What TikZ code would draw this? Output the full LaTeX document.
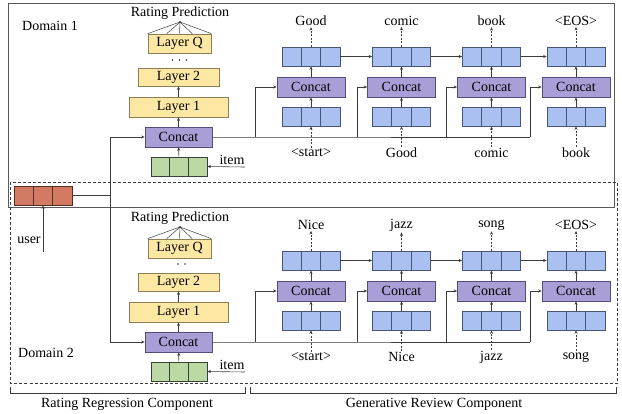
\documentclass[tikz,border=0pt]{standalone}
\usepackage{fontspec}
\setmainfont{Liberation Serif}
\usetikzlibrary{calc,arrows.meta}
\definecolor{yfill}{RGB}{252,231,163}
\definecolor{ydraw}{RGB}{140,125,85}
\definecolor{pfill}{RGB}{170,158,214}
\definecolor{pdraw}{RGB}{85,75,125}
\definecolor{bfill}{RGB}{170,192,240}
\definecolor{bdraw}{RGB}{70,85,120}
\definecolor{gfill}{RGB}{188,216,164}
\definecolor{gdraw}{RGB}{55,65,55}
\definecolor{rfill}{RGB}{210,122,100}
\definecolor{rdraw}{RGB}{85,45,35}
\definecolor{lineC}{RGB}{60,60,60}
\begin{document}
\begin{tikzpicture}[x=1pt,y=-1pt,
  font=\fontsize{14}{16}\selectfont,
  box/.style={draw, line width=0.7pt, inner sep=0pt, anchor=center},
  layer/.style={box, fill=yfill, draw=ydraw, minimum height=19pt},
  cc/.style={box, fill=pfill, draw=pdraw, minimum width=68pt, minimum height=20pt},
  rcc/.style={box, fill=pfill, draw=pdraw, minimum width=67pt, minimum height=20pt},
  cells/.style={box, draw=#1, minimum width=58pt, minimum height=19pt,
    path picture={\foreach \k in {1,2}{\draw[#1, line width=0.7pt]
      ($(path picture bounding box.south west)!\k/3!(path picture bounding box.south east)$) --
      ($(path picture bounding box.north west)!\k/3!(path picture bounding box.north east)$);}}},
  bcell/.style={cells=bdraw, fill=bfill},
  gcell/.style={cells=gdraw, fill=gfill, minimum width=56pt},
  rcell/.style={cells=rdraw, fill=rfill},
  arr/.style={-{Stealth[length=3.5pt,width=3pt]}, line width=0.6pt, draw=lineC},
  darr/.style={arr, dash pattern=on 2pt off 1.5pt},
  ln/.style={line width=0.6pt, draw=lineC},
  lbl/.style={inner sep=1pt},
  frame/.style={line width=0.8pt, draw=lineC}
]
\useasboundingbox (0,0) rectangle (622,413);

% domain frames
\draw[frame, draw=black!65] (8,3) rectangle (614,207);
\draw[frame, dash pattern=on 3pt off 2pt] (10.5,182) rectangle (617,383);
\node[anchor=west, inner sep=0pt] (dom1) at (22,26) {Domain 1};
\node[anchor=west, inner sep=0pt] (dom2) at (18,353) {Domain 2};

% brackets
\draw[ln] (10,387) -- (10,393) -- (245,393) -- (245,387);
\draw[ln] (250,387) -- (250,393) -- (616,393) -- (616,387);
\node (rrc) at (127,404) {Rating Regression Component};
\node (grc) at (434,404) {Generative Review Component};

% user embedding
\node[rcell] (R) at (43,195.5) {};
\node[lbl] (user) at (29,240) {user};
\coordinate (u) at (43,252);
\draw[arr] (u) -- (R.south);
\coordinate (j) at (110,195.5);
\draw[ln] (R.east) -- (j);

% ---------- rating parts ----------
\foreach \p/\o in {A/0, B/205} {
  \node[lbl] (\p rp) at (180,13.5+\o) {Rating Prediction};
  \node[layer, minimum width=63pt] (\p lq) at (179.5,43.5+\o) {Layer Q};
  \node[layer, minimum width=81pt, minimum height=18pt] (\p l2) at (178.5,77+\o) {Layer 2};
  \node[layer, minimum width=99pt, minimum height=20pt] (\p l1) at (178.5,107+\o) {Layer 1};
  \node[rcc] (\p c) at (178.5,137+\o) {Concat};
  \node[gcell] (\p g) at (179,166.5+\o) {};
  \node[lbl] (\p it) at (232,160+\o) {item};
  \coordinate (\p ia) at (245,167+\o);
  \coordinate (\p apex) at (180,22+\o);
  \draw[arr] (\p ia) -- (\p g.east);
  \draw[arr] (\p g) -- (\p c);
  \draw[arr] (\p c) -- (\p l1);
  \draw[arr] (\p l1) -- (\p l2);
  \foreach \f in {0,0.3,0.5,0.7,1} {
    \draw[ln, line width=0.5pt] ($(\p lq.north west)!\f!(\p lq.north east)$) -- (\p apex);
  }
  \fill[lineC] (\p apex) circle (1.1pt);
  \draw[arr] (j) |- (\p c.west);
}
% ellipsis dots
\foreach \x in {172.5,179.5,186.5} \fill[black!80] (\x,60) circle (0.9pt);
\foreach \x in {178,185} \fill[black!80] (\x,264) circle (0.9pt);

% ---------- decoders ----------
\foreach \i/\x/\tw/\bw/\fx in {1/311/Good/{<start>}/255, 2/401.5/comic/Good/357, 3/491.5/book/comic/446, 4/576/{<EOS>}/book/530} {
  \node[bcell] (Aa\i) at (\x,56.5) {};
  \node[cc] (Ac\i) at (\x,87) {Concat};
  \node[bcell] (Ab\i) at (\x,116.5) {};
  \node[lbl] (Atw\i) at (\x,21) {\tw};
  \node[lbl] (Abw\i) at (\x,153) {\bw};
  \coordinate (Af\i) at (\fx,137);
  \draw[arr] (Ac\i) -- (Aa\i);
  \draw[arr] (Ab\i) -- (Ac\i);
  \draw[darr] (Aa\i) -- (Atw\i);
  \draw[darr] (Abw\i) -- (Ab\i);
  \draw[arr] (Af\i) |- (Ac\i.west);
}
\foreach \i/\x/\tw/\bw/\fx in {1/311/Nice/{<start>}/255, 2/401.5/jazz/Nice/357, 3/491.5/song/jazz/446, 4/576/{<EOS>}/song/530} {
  \node[bcell] (Ba\i) at (\x,260.5) {};
  \node[cc] (Bc\i) at (\x,291) {Concat};
  \node[bcell] (Bb\i) at (\x,320.5) {};
  \node[lbl] (Btw\i) at (\x,225) {\tw};
  \node[lbl] (Bbw\i) at (\x,357) {\bw};
  \coordinate (Bf\i) at (\fx,342);
  \draw[arr] (Bc\i) -- (Ba\i);
  \draw[arr] (Bb\i) -- (Bc\i);
  \draw[darr] (Ba\i) -- (Btw\i);
  \draw[darr] (Bbw\i) -- (Bb\i);
  \draw[arr] (Bf\i) |- (Bc\i.west);
}
\draw[ln] (Ac.east) -- (Af1) -- (Af4);
\draw[ln] (Bc.east) -- (Bf1) -- (Bf4);
\foreach \p in {A,B} {
  \draw[arr] (\p a1) -- (\p a2);
  \draw[arr] (\p a2) -- (\p a3);
  \draw[arr] (\p a3) -- (\p a4);
}
\end{tikzpicture}
\end{document}
